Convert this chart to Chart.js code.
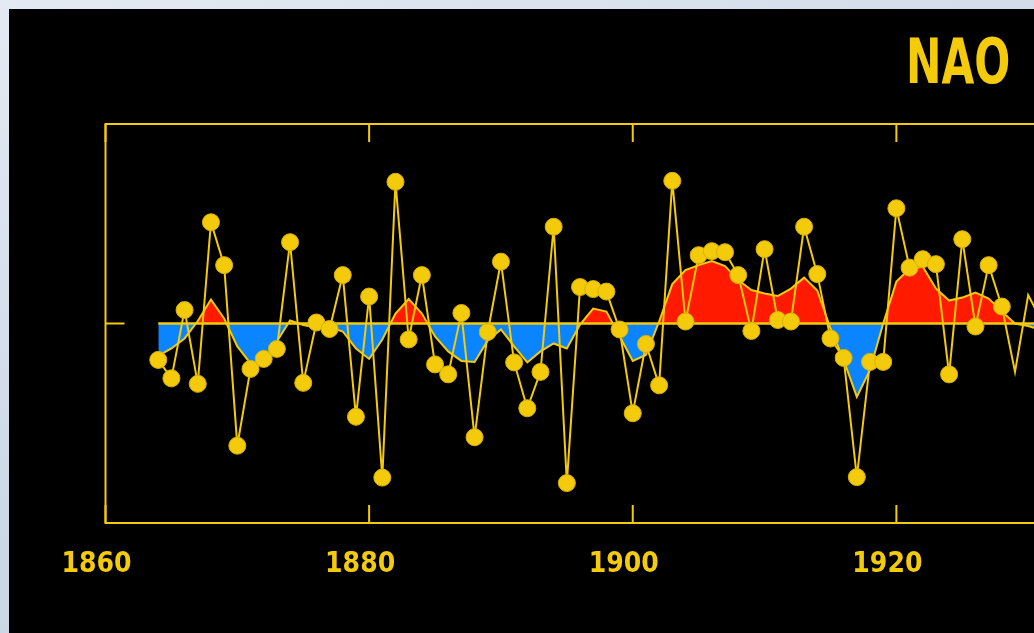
<!DOCTYPE html>
<html>
<head>
    <title>NAO</title>
    <script src="https://cdn.jsdelivr.net/npm/chart.js"></script>
    <style>
        body { margin: 0; width: 1034px; height: 633px; overflow: hidden;
               background: linear-gradient(160deg, #e3eaf3 0%, #cdd9e6 50%, #c4d2e1 100%); }
        #panel { position: absolute; left: 9px; top: 9px; width: 1100px; height: 700px; background: #000; }
        #chart { position: absolute; left: 9px; top: 9px; }
        #title { position: absolute; right: 24px; top: 31px; font: bold 62px/1 'Liberation Sans Narrow', 'DejaVu Sans Condensed', sans-serif;
                 color: #f4cb0a; transform: scaleX(0.76); transform-origin: right top; }
    </style>
</head>
<body>
    <div id="panel"></div>
    <canvas id="chart" width="1191" height="624"></canvas>
    <div id="title">NAO</div>

    <script>
        // yearly winter NAO index
        const years = [1864, 1865, 1866, 1867, 1868, 1869, 1870, 1871, 1872, 1873,
                       1874, 1875, 1876, 1877, 1878, 1879, 1880, 1881, 1882, 1883,
                       1884, 1885, 1886, 1887, 1888, 1889, 1890, 1891, 1892, 1893,
                       1894, 1895, 1896, 1897, 1898, 1899, 1900, 1901, 1902, 1903,
                       1904, 1905, 1906, 1907, 1908, 1909, 1910, 1911, 1912, 1913,
                       1914, 1915, 1916, 1917, 1918, 1919, 1920, 1921, 1922, 1923,
                       1924, 1925, 1926, 1927, 1928, 1929, 1930, 1931];
        const naoIndex = [-0.73, -1.10, 0.27, -1.21, 2.03, 1.17, -2.45, -0.91, -0.71, -0.51,
                          1.63, -1.19, 0.02, -0.11, 0.97, -1.87, 0.54, -3.09, 2.84, -0.32,
                          0.97, -0.82, -1.02, 0.21, -2.28, -0.17, 1.24, -0.78, -1.70, -0.97,
                          1.94, -3.20, 0.73, 0.69, 0.64, -0.12, -1.80, -0.41, -1.24, 2.86,
                          0.04, 1.37, 1.45, 1.43, 0.97, -0.15, 1.49, 0.07, 0.04, 1.94,
                          0.99, -0.30, -0.69, -3.08, -0.77, -0.77, 2.31, 1.12, 1.29, 1.19,
                          -1.02, 1.69, -0.06, 1.17, 0.34, -0.97, 0.57, 0.06];
        // smoothed curve (filled red above zero, blue below)
        const naoSmooth = [-0.65, -0.50, -0.30, 0.05, 0.48, 0.10, -0.46, -0.80, -0.77, -0.36,
                           0.06, -0.03, -0.08, -0.07, -0.16, -0.50, -0.71, -0.32, 0.20, 0.49,
                           0.20, -0.26, -0.56, -0.75, -0.77, -0.34, -0.12, -0.46, -0.78, -0.56,
                           -0.40, -0.50, -0.02, 0.30, 0.24, -0.25, -0.75, -0.63, 0.04, 0.79,
                           1.07, 1.17, 1.25, 1.15, 0.87, 0.67, 0.60, 0.55, 0.70, 0.92,
                           0.66, -0.10, -0.73, -1.47, -0.93, 0.00, 0.84, 1.10, 1.14, 0.70,
                           0.46, 0.52, 0.62, 0.50, 0.24, 0.00, -0.05, -0.13];
        const lastMarkedYear = 1928;
        const xTicks = [1860, 1880, 1900, 1920, 1940];
        const xLabels = [1860, 1880, 1900, 1920];

        const yellow = '#f4cb0a';
        const fontFamily = "'Liberation Sans Narrow', 'DejaVu Sans Condensed', sans-serif";

        // frame with inward ticks
        const framePlugin = {
            id: 'frame',
            beforeDatasetsDraw(chart) {
                const { ctx, chartArea: a, scales } = chart;
                ctx.save();
                ctx.strokeStyle = yellow;
                ctx.lineWidth = 2;
                ctx.strokeRect(a.left, a.top, a.right - a.left, a.bottom - a.top);
                ctx.beginPath();
                xTicks.forEach(t => {
                    const px = scales.x.getPixelForValue(t);
                    ctx.moveTo(px, a.top); ctx.lineTo(px, a.top + 18);
                    ctx.moveTo(px, a.bottom); ctx.lineTo(px, a.bottom - 18);
                });
                const y0 = scales.y.getPixelForValue(0);
                ctx.moveTo(a.left, y0); ctx.lineTo(a.left + 19, y0);
                ctx.stroke();
                ctx.restore();
            }
        };

        const toPoints = vals => years.map((yr, i) => ({ x: yr, y: vals[i] }));

        new Chart(document.getElementById('chart'), {
            type: 'line',
            data: {
                datasets: [
                    {
                        label: 'NAO index',
                        data: toPoints(naoIndex),
                        borderColor: yellow,
                        borderWidth: 2,
                        pointRadius: years.map(yr => yr <= lastMarkedYear ? 8.5 : 0),
                        pointBackgroundColor: yellow,
                        pointBorderColor: '#d8b005',
                        pointBorderWidth: 1,
                        tension: 0,
                        order: 1
                    },
                    {
                        label: 'zero',
                        data: toPoints(years.map(() => 0)),
                        borderColor: yellow,
                        borderWidth: 2.5,
                        pointRadius: 0,
                        order: 2
                    },
                    {
                        label: 'smoothed',
                        data: toPoints(naoSmooth),
                        borderColor: yellow,
                        borderWidth: 2,
                        pointRadius: 0,
                        tension: 0,
                        fill: { target: { value: 0 }, above: '#ff1a00', below: '#0a84ff' },
                        order: 3
                    }
                ]
            },
            options: {
                responsive: false,
                animation: false,
                layout: { padding: { left: 0, right: 40, top: 115, bottom: 0 } },
                plugins: { legend: { display: false }, tooltip: { enabled: false } },
                scales: {
                    x: {
                        type: 'linear',
                        min: 1860,
                        max: 1940,
                        afterFit: s => { s.height = 110; s.paddingRight = 0; s.paddingLeft = 0; },
                        afterBuildTicks: s => { s.ticks = xLabels.map(v => ({ value: v })); },
                        grid: { display: false },
                        border: { display: false },
                        ticks: {
                            color: yellow,
                            padding: 17,
                            labelOffset: -9,
                            maxRotation: 0,
                            font: { family: fontFamily, size: 28, weight: 'bold' },
                            callback: v => String(v)
                        }
                    },
                    y: {
                        min: -4,
                        max: 4,
                        afterFit: s => { s.width = 96.5; },
                        grid: { display: false },
                        border: { display: false },
                        ticks: { display: false }
                    }
                }
            },
            plugins: [framePlugin]
        });
    </script>
</body>
</html>
